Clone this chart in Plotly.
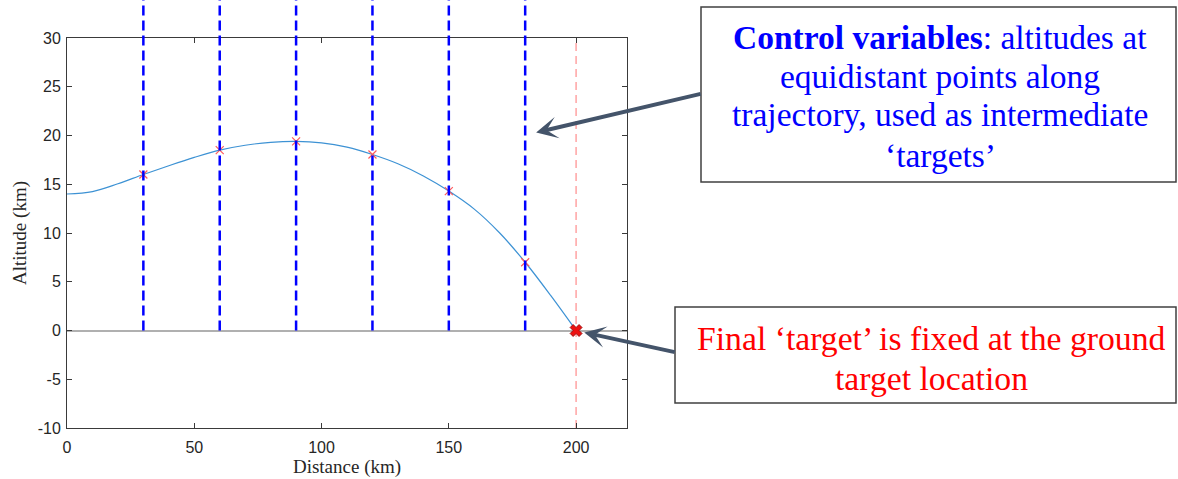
import plotly.graph_objects as go

# Trajectory profile (altitude vs. ground distance)
distance_km = [0, 10, 20, 30, 40, 50, 60, 70, 80, 90, 100,
               110, 120, 130, 140, 150, 160, 170, 180, 190, 200]
altitude_km = [14.0, 14.25, 15.05, 16.0, 16.9, 17.75, 18.5, 19.0, 19.3, 19.4, 19.25,
               18.8, 18.05, 17.1, 15.85, 14.3, 12.45, 10.0, 7.0, 3.6, 0.0]

# Control points: altitudes at equidistant points along the trajectory
control_x = [30, 60, 90, 120, 150, 180]
control_alt = [16.0, 18.5, 19.4, 18.05, 14.3, 7.0]

# Final target on the ground
target_x = [200]
target_alt = [0.0]

x_range = [0, 220]
y_range = [-10, 30]
x_ticks = [0, 50, 100, 150, 200]
x_tick_labels = ["0", "50", "100", "150", "200"]
y_ticks = [-10, -5, 0, 5, 10, 15, 20, 25, 30]
y_tick_labels = ["-10", "-5", "0", "5", "10", "15", "20", "25", "30"]
control_line_top = 34

W, H = 1178, 479
ML, MR, MT, MB = 67, 551, 38, 51


def px_x(px):
    return (px - ML) / (W - ML - MR)


def px_y(py):
    return (H - MB - py) / (H - MT - MB)


def y_dom(v):
    return (v - y_range[0]) / (y_range[1] - y_range[0])


fig = go.Figure()

fig.add_trace(go.Scatter(
    x=distance_km, y=altitude_km, mode="lines",
    line=dict(color="#3d92d4", width=1.2, shape="spline", smoothing=1),
    hoverinfo="skip", showlegend=False))

fig.add_trace(go.Scatter(
    x=control_x, y=control_alt, mode="markers",
    marker=dict(symbol="x-thin", size=8, line=dict(color="#ff5a5a", width=1.2)),
    showlegend=False))

fig.add_trace(go.Scatter(
    x=target_x, y=target_alt, mode="markers", cliponaxis=False,
    marker=dict(symbol="x", size=10.5, color="#ee1111",
                line=dict(color="#a01010", width=1)),
    showlegend=False))

shapes = []
# Vertical dashed lines at the control points
for cx in control_x:
    shapes.append(dict(type="line", xref="x", yref="y domain",
                       x0=cx, x1=cx, y0=y_dom(0), y1=y_dom(control_line_top),
                       line=dict(color="#0000ff", width=2.5, dash="10px,5px")))
# Ground-target marker line
shapes.append(dict(type="line", xref="x", yref="y domain",
                   x0=target_x[0], x1=target_x[0], y0=0, y1=1,
                   line=dict(color="#ffa3a3", width=1.5, dash="8px,5px"), layer="below"))

# Text boxes
shapes.append(dict(type="rect", xref="paper", yref="paper",
                   x0=px_x(701), x1=px_x(1176), y0=px_y(182), y1=px_y(7),
                   line=dict(color="#404040", width=1.5), fillcolor="white"))
shapes.append(dict(type="rect", xref="paper", yref="paper",
                   x0=px_x(675), x1=px_x(1176), y0=px_y(403), y1=px_y(307),
                   line=dict(color="#404040", width=1.5), fillcolor="white"))

serif = "Liberation Serif"
annotations = []

box1_lines = [
    ("<b>Control variables</b>: altitudes at", 37),
    ("equidistant points along", 76),
    ("trajectory, used as intermediate", 115),
    ("\u2018targets\u2019", 155),
]
for text, cy in box1_lines:
    annotations.append(dict(xref="paper", yref="paper", x=px_x(940), y=px_y(cy),
                            xanchor="center", yanchor="middle", showarrow=False,
                            text=text, font=dict(family=serif, size=33.5, color="#0000ff")))

box2_lines = [
    ("Final \u2018target\u2019 is fixed at the ground", 338),
    ("target location", 378),
]
for text, cy in box2_lines:
    annotations.append(dict(xref="paper", yref="paper", x=px_x(931), y=px_y(cy),
                            xanchor="center", yanchor="middle", showarrow=False,
                            text=text, font=dict(family=serif, size=33.7, color="#ff0000")))

arrow_style = dict(text="", showarrow=True, arrowhead=3, arrowsize=0.9,
                   arrowwidth=4, arrowcolor="#44546a", axref="pixel", ayref="pixel")
annotations.append(dict(xref="x", yref="y", x=184.3, y=20.3, ax=166, ay=-39, **arrow_style))
annotations.append(dict(xref="x", yref="y", x=203.2, y=-0.2, ax=92, ay=20, **arrow_style))

tick_font = dict(family="Liberation Sans", size=16, color="#262626")
axis_common = dict(showgrid=False, showline=True, linecolor="#3a3a3a", linewidth=1,
                   mirror="ticks", ticks="inside", ticklen=5, tickcolor="#3a3a3a",
                   tickfont=tick_font, automargin=False)

fig.update_layout(
    width=W, height=H, margin=dict(l=ML, r=MR, t=MT, b=MB),
    paper_bgcolor="white", plot_bgcolor="white",
    shapes=shapes, annotations=annotations, showlegend=False,
    xaxis=dict(range=x_range, tickvals=x_ticks, ticktext=x_tick_labels,
               zeroline=False, ticklabelstandoff=5,
               title=dict(text="Distance (km)", standoff=2,
                          font=dict(family=serif, size=19, color="#262626")),
               **axis_common),
    yaxis=dict(range=y_range, tickvals=y_ticks, ticktext=y_tick_labels,
               ticklabelstandoff=2,
               zeroline=True, zerolinecolor="#b0b0b0", zerolinewidth=1.5,
               title=dict(text="Altitude (km)", standoff=6,
                          font=dict(family=serif, size=19, color="#262626")),
               **axis_common),
)

fig.write_html("out.html")
